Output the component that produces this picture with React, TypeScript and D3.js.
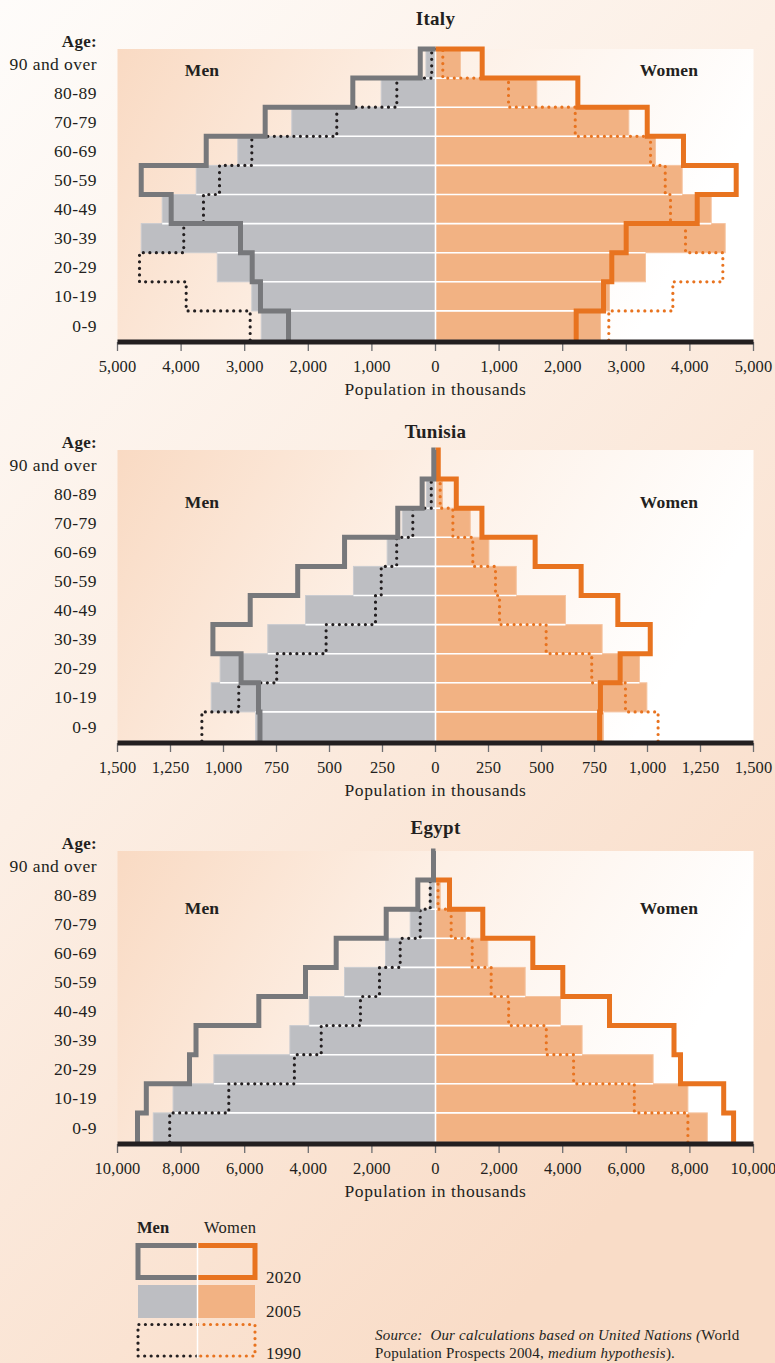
import React from "react";
import * as d3 from "d3";

// ---------- DATA (thousands), ordered from 0-9 (bottom) to 90 and over (top) ----------
const AGE_LABELS = ["0-9", "10-19", "20-29", "30-39", "40-49", "50-59", "60-69", "70-79", "80-89", "90 and over"];

const ITALY_MEN_1990 = [2914, 3920, 4654, 3958, 3648, 3396, 2888, 1552, 608, 60];
const ITALY_MEN_2005 = [2740, 2888, 3431, 4627, 4297, 3762, 3108, 2259, 854, 150];
const ITALY_MEN_2020 = [2311, 2752, 2882, 3066, 4156, 4627, 3605, 2678, 1300, 240];
const ITALY_WOMEN_1990 = [2725, 3732, 4518, 3931, 3695, 3612, 3381, 2197, 1148, 115];
const ITALY_WOMEN_2005 = [2594, 2736, 3302, 4555, 4335, 3879, 3459, 3040, 1593, 393];
const ITALY_WOMEN_2020 = [2212, 2642, 2772, 2998, 4115, 4728, 3899, 3329, 2238, 734];

const TUNISIA_MEN_1990 = [1102, 928, 749, 516, 283, 256, 183, 107, 20, 0];
const TUNISIA_MEN_2005 = [849, 1058, 1016, 791, 613, 387, 228, 157, 42, 0];
const TUNISIA_MEN_2020 = [828, 835, 917, 1050, 874, 650, 429, 178, 63, 8];
const TUNISIA_WOMEN_1990 = [1050, 896, 737, 522, 302, 283, 176, 82, 22, 0];
const TUNISIA_WOMEN_2005 = [792, 997, 962, 786, 613, 381, 252, 164, 33, 0];
const TUNISIA_WOMEN_2020 = [774, 778, 871, 1013, 860, 687, 470, 219, 98, 13];

const EGYPT_MEN_1990 = [8358, 6500, 4437, 3594, 2360, 1761, 1110, 481, 167, 0];
const EGYPT_MEN_2005 = [8874, 8252, 6969, 4579, 3970, 2862, 1572, 796, 180, 0];
const EGYPT_MEN_2020 = [9371, 9094, 7736, 7531, 5556, 4088, 3123, 1550, 556, 63];
const EGYPT_WOMEN_1990 = [7937, 6252, 4343, 3484, 2300, 1751, 1154, 493, 80, 0];
const EGYPT_WOMEN_2005 = [8547, 7937, 6843, 4610, 3930, 2820, 1645, 943, 150, 0];
const EGYPT_WOMEN_2020 = [9374, 9063, 7704, 7500, 5472, 4003, 3060, 1487, 440, 0];

const COUNTRIES = ["Italy", "Tunisia", "Egypt"];
const AXIS_MAX = [5000, 1500, 10000];
const AXIS_STEP = [1000, 250, 2000];
const LEGEND_YEARS = ["2020", "2005", "1990"];

// ---------- STYLE / LAYOUT ----------
const W = 775;
const H = 1363;
const X0 = 117.5;
const X1 = 753.5;
const CX = (X0 + X1) / 2;
const PLOT_H = 291;
const ROW_H = PLOT_H / 10;
const PANEL_TOP = [49, 450, 851];
const TITLE_Y = [25, 438, 834];
const SIDE_LABEL_DY = [21, 52, 57];

const SERIF = "'Liberation Serif', 'Times New Roman', serif";
const INK = "#231f20";
const GRAY_LINE = "#77787b";
const ORANGE_LINE = "#e8731f";
const GRAY_FILL = "#bdbec2";
const ORANGE_FILL = "#f2b283";

const PANELS = COUNTRIES.map((name, k) => ({
  name,
  max: AXIS_MAX[k],
  step: AXIS_STEP[k],
  top: PANEL_TOP[k],
  titleY: TITLE_Y[k],
  sideDy: SIDE_LABEL_DY[k],
  men: [
    [ITALY_MEN_1990, TUNISIA_MEN_1990, EGYPT_MEN_1990][k],
    [ITALY_MEN_2005, TUNISIA_MEN_2005, EGYPT_MEN_2005][k],
    [ITALY_MEN_2020, TUNISIA_MEN_2020, EGYPT_MEN_2020][k],
  ],
  women: [
    [ITALY_WOMEN_1990, TUNISIA_WOMEN_1990, EGYPT_WOMEN_1990][k],
    [ITALY_WOMEN_2005, TUNISIA_WOMEN_2005, EGYPT_WOMEN_2005][k],
    [ITALY_WOMEN_2020, TUNISIA_WOMEN_2020, EGYPT_WOMEN_2020][k],
  ],
}));

function stepPath(vals: number[], xOf: (v: number) => number, bottom: number): string | null {
  let n = vals.length - 1;
  while (n >= 0 && vals[n] === 0) n--;
  if (n < 0) return null;
  const pts: [number, number][] = [];
  pts.push([xOf(vals[0]), bottom]);
  for (let i = 0; i <= n; i++) {
    const top = bottom - (i + 1) * ROW_H;
    pts.push([xOf(vals[i]), top]);
    if (i < n) pts.push([xOf(vals[i + 1]), top]);
  }
  pts.push([xOf(0), bottom - (n + 1) * ROW_H]);
  return d3.line()(pts);
}

function Panel({ p }: { p: (typeof PANELS)[number] }) {
  const x = d3.scaleLinear().domain([-p.max, p.max]).range([X0, X1]);
  const xm = (v: number) => x(-v);
  const xw = (v: number) => x(v);
  const bottom = p.top + PLOT_H;
  const ticks = d3.range(-p.max, p.max + p.step / 2, p.step);
  const fmt = d3.format(",");
  const [m1990, m2005, m2020] = p.men;
  const [w1990, w2005, w2020] = p.women;
  let topBar = -1;
  m2005.forEach((v, i) => {
    if (v > 0 || w2005[i] > 0) topBar = i;
  });
  const rowTop = (i: number) => bottom - (i + 1) * ROW_H;

  return (
    <g>
      <rect x={X0} y={p.top} width={X1 - X0} height={PLOT_H} fill="url(#plotGrad)" />
      <text x={CX} y={p.titleY} textAnchor="middle" fontFamily={SERIF} fontWeight="bold" fontSize={19} letterSpacing={0.3} fill={INK}>
        {p.name}
      </text>
      <text x={97} y={p.top - 2} textAnchor="end" fontFamily={SERIF} fontWeight="bold" fontSize={17} letterSpacing={0.3} fill={INK}>
        Age:
      </text>
      {AGE_LABELS.map((lab, i) => (
        <text key={lab} x={97} y={rowTop(i) + ROW_H / 2} dy="0.35em" textAnchor="end" fontFamily={SERIF} fontSize={17.5} letterSpacing={0.45} fill={INK}>
          {lab}
        </text>
      ))}
      <text x={202} y={p.top + p.sideDy} dy="0.35em" textAnchor="middle" fontFamily={SERIF} fontWeight="bold" fontSize={17.5} letterSpacing={0.2} fill={INK}>
        Men
      </text>
      <text x={669} y={p.top + p.sideDy} dy="0.35em" textAnchor="middle" fontFamily={SERIF} fontWeight="bold" fontSize={17.5} letterSpacing={0.2} fill={INK}>
        Women
      </text>

      {/* 2005 bars */}
      {m2005.map((v, i) =>
        v > 0 ? (
          <rect key={"m" + i} x={xm(v)} y={rowTop(i)} width={CX - xm(v)} height={ROW_H} fill={GRAY_FILL} stroke="#cbccd0" strokeWidth={1} />
        ) : null
      )}
      {w2005.map((v, i) =>
        v > 0 ? (
          <rect key={"w" + i} x={CX} y={rowTop(i)} width={xw(v) - CX} height={ROW_H} fill={ORANGE_FILL} stroke="#f5c4a0" strokeWidth={1} />
        ) : null
      )}
      {/* white separators */}
      {d3.range(0, 9).map((i) => {
        const y = rowTop(i);
        const mm = Math.min(m2005[i], m2005[i + 1]);
        const ww = Math.min(w2005[i], w2005[i + 1]);
        return (
          <g key={"sep" + i}>
            {mm > 0 && <line x1={xm(mm)} x2={CX} y1={y} y2={y} stroke="#fff" strokeWidth={1.6} />}
            {ww > 0 && <line x1={CX} x2={xw(ww)} y1={y} y2={y} stroke="#fff" strokeWidth={1.6} />}
          </g>
        );
      })}
      {topBar >= 0 && <line x1={CX} x2={CX} y1={bottom} y2={rowTop(topBar)} stroke="#fff" strokeWidth={1.6} />}

      {/* 1990 dotted */}
      <path d={stepPath(w1990, xw, bottom) || ""} fill="none" stroke={ORANGE_LINE} strokeWidth={3.2} strokeLinecap="round" strokeDasharray="0.01 6.5" />
      <path d={stepPath(m1990, xm, bottom) || ""} fill="none" stroke={INK} strokeWidth={3.2} strokeLinecap="round" strokeDasharray="0.01 6.5" />
      {/* 2020 outlines */}
      <path d={stepPath(w2020, xw, bottom) || ""} fill="none" stroke={ORANGE_LINE} strokeWidth={5} strokeLinejoin="miter" />
      <path d={stepPath(m2020, xm, bottom) || ""} fill="none" stroke={GRAY_LINE} strokeWidth={5} strokeLinejoin="miter" />

      {/* axis */}
      {ticks.map((t) => (
        <g key={"t" + t}>
          <line x1={x(t)} x2={x(t)} y1={bottom + 2} y2={bottom + 11} stroke="#6d6e71" strokeWidth={1.3} />
          <text x={x(t)} y={bottom + 32} textAnchor="middle" fontFamily={SERIF} fontSize={16.5} letterSpacing={0.1} fill={INK}>
            {fmt(Math.abs(t))}
          </text>
        </g>
      ))}
      <line x1={X0} x2={X1} y1={bottom + 2} y2={bottom + 2} stroke={INK} strokeWidth={5} />
      <text x={CX} y={bottom + 55} textAnchor="middle" fontFamily={SERIF} fontSize={17.5} letterSpacing={0.6} fill={INK}>
        Population in thousands
      </text>
    </g>
  );
}

function Legend() {
  const lx0 = 138;
  const lmid = 197.5;
  const lx1 = 255;
  const boxes = [
    { y0: 1245.5, y1: 1277.5 },
    { y0: 1285, y1: 1318 },
    { y0: 1324.5, y1: 1356 },
  ];
  const half = (side: "m" | "w", y0: number, y1: number) => {
    const xe = side === "m" ? lx0 : lx1;
    return d3.line()([
      [lmid, y0],
      [xe, y0],
      [xe, y1],
      [lmid, y1],
    ]) as string;
  };
  return (
    <g>
      <text x={137} y={1233} fontFamily={SERIF} fontWeight="bold" fontSize={16.5} fill={INK}>Men</text>
      <text x={204} y={1233} fontFamily={SERIF} fontSize={16.5} letterSpacing={0.3} fill={INK}>Women</text>
      <path d={half("m", boxes[0].y0, boxes[0].y1)} fill="none" stroke={GRAY_LINE} strokeWidth={5} />
      <path d={half("w", boxes[0].y0, boxes[0].y1)} fill="none" stroke={ORANGE_LINE} strokeWidth={5} />
      <rect x={lx0} y={boxes[1].y0} width={lmid - lx0} height={boxes[1].y1 - boxes[1].y0} fill={GRAY_FILL} />
      <rect x={lmid} y={boxes[1].y0} width={lx1 - lmid} height={boxes[1].y1 - boxes[1].y0} fill={ORANGE_FILL} />
      <path d={half("m", boxes[2].y0, boxes[2].y1)} fill="none" stroke={INK} strokeWidth={3.2} strokeLinecap="round" strokeDasharray="0.01 6.5" />
      <path d={half("w", boxes[2].y0, boxes[2].y1)} fill="none" stroke={ORANGE_LINE} strokeWidth={3.2} strokeLinecap="round" strokeDasharray="0.01 6.5" />
      <line x1={lmid} x2={lmid} y1={1243} y2={1358} stroke="#fff" strokeWidth={1.5} />
      {LEGEND_YEARS.map((yr, i) => (
        <text key={yr} x={266} y={[1283, 1317, 1359][i]} fontFamily={SERIF} fontSize={17} letterSpacing={0.3} fill={INK}>
          {yr}
        </text>
      ))}
      <text x={375} y={1340} fontFamily={SERIF} fontSize={15} letterSpacing={0.2} fill={INK} style={{ whiteSpace: "pre" }}>
        <tspan fontStyle="italic">{"Source:  Our calculations based on United Nations ("}</tspan>
        <tspan>World</tspan>
      </text>
      <text x={375} y={1358} fontFamily={SERIF} fontSize={15} letterSpacing={0.2} fill={INK} style={{ whiteSpace: "pre" }}>
        <tspan>{"Population Prospects 2004, "}</tspan>
        <tspan fontStyle="italic">medium hypothesis</tspan>
        <tspan>).</tspan>
      </text>
    </g>
  );
}

export default function App() {
  return (
    <svg width={W} height={H} viewBox={`0 0 ${W} ${H}`} style={{ position: "absolute", left: 0, top: 0, display: "block" }}>
      <defs>
        <linearGradient id="pageGrad" x1="0" y1="0" x2="0.6" y2="1">
          <stop offset="0" stopColor="#fefcfa" />
          <stop offset="0.45" stopColor="#fcefe5" />
          <stop offset="1" stopColor="#f9dcc7" />
        </linearGradient>
        <linearGradient id="plotGrad" x1="0" y1="0" x2="1" y2="0.25">
          <stop offset="0" stopColor="#f9dac3" />
          <stop offset="0.5" stopColor="#fdf0e6" />
          <stop offset="1" stopColor="#ffffff" />
        </linearGradient>
      </defs>
      <rect x={0} y={0} width={W} height={H} fill="url(#pageGrad)" />
      {PANELS.map((p) => (
        <Panel key={p.name} p={p} />
      ))}
      <Legend />
    </svg>
  );
}
